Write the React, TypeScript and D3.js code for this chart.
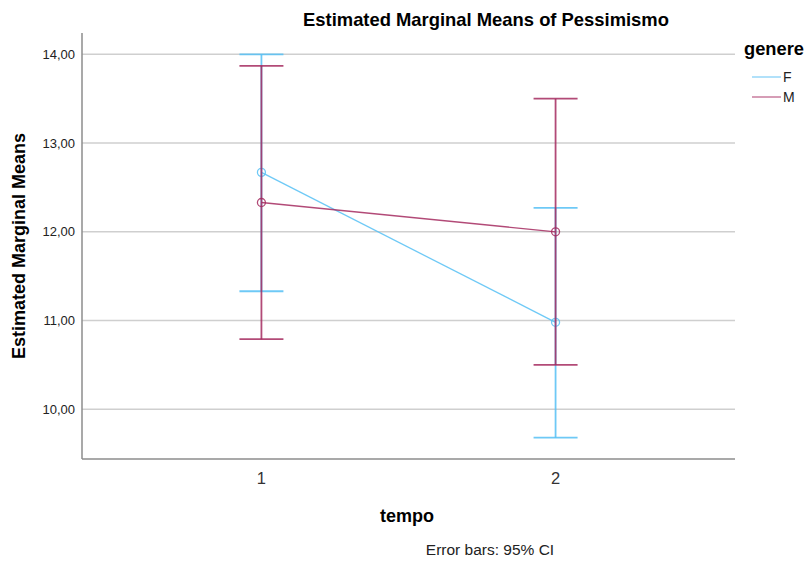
import * as d3 from "d3";

// chart data
const tempi = ["1", "2"];
const genere = ["F", "M"];
const meanF = [12.67, 10.98];
const lowF = [11.33, 9.68];
const highF = [14.0, 12.27];
const meanM = [12.33, 12.0];
const lowM = [10.79, 10.5];
const highM = [13.87, 13.5];
const yTicks = [10, 11, 12, 13, 14];
const colors = ["#55BFF5", "#A52A5F"];

const W = 807;
const H = 562;
const font = "'Liberation Sans', Arial, sans-serif";

export default function App() {
  const left = 82;
  const right = 735;
  const top = 33;
  const bottom = 459;

  const x = d3.scalePoint<string>().domain(tempi).range([left, right]).padding(0.61);
  const y = d3.scaleLinear().domain([9.44, 14.24]).range([bottom, top]);
  const fmt = (v: number) => d3.format(".2f")(v).replace(".", ",");

  const series = [
    { name: genere[0], mean: meanF, low: lowF, high: highF, color: colors[0] },
    { name: genere[1], mean: meanM, low: lowM, high: highM, color: colors[1] },
  ];
  const line = d3
    .line<number>()
    .x((_, i) => x(tempi[i]) as number)
    .y((d) => y(d));
  const cap = 22;

  return (
    <svg width={W} height={H} style={{ position: "absolute", left: 0, top: 0 }} fontFamily={font}>
      <rect width={W} height={H} fill="#fff" />
      <text x={486} y={26} textAnchor="middle" fontSize={18.4} fontWeight="bold" fill="#000">
        Estimated Marginal Means of Pessimismo
      </text>

      {/* gridlines */}
      {yTicks.map((t) => (
        <g key={t}>
          <line x1={left} x2={right} y1={y(t)} y2={y(t)} stroke="#cfcfcf" strokeWidth={1.5} />
          <text x={75} y={y(t)} dy="0.35em" textAnchor="end" fontSize={13} fill="#222">
            {fmt(t)}
          </text>
        </g>
      ))}

      {/* axes */}
      <line x1={left} x2={left} y1={top} y2={bottom} stroke="#8c8c8c" strokeWidth={1.5} />
      <line x1={left} x2={right} y1={bottom} y2={bottom} stroke="#8c8c8c" strokeWidth={1.5} />
      {tempi.map((t) => (
        <text key={t} x={x(t)} y={484} textAnchor="middle" fontSize={16.5} fill="#333">
          {t}
        </text>
      ))}

      {/* series */}
      {series.map((s) => (
        <g key={s.name} stroke={s.color} fill="none" strokeOpacity={0.85}>
          <path d={line(s.mean) || ""} strokeWidth={1.3} />
          {s.mean.map((m, i) => {
            const cx = x(tempi[i]) as number;
            return (
              <g key={i}>
                <line x1={cx} x2={cx} y1={y(s.low[i])} y2={y(s.high[i])} strokeWidth={1.8} />
                <line x1={cx - cap} x2={cx + cap} y1={y(s.low[i])} y2={y(s.low[i])} strokeWidth={1.8} />
                <line x1={cx - cap} x2={cx + cap} y1={y(s.high[i])} y2={y(s.high[i])} strokeWidth={1.8} />
                <circle cx={cx} cy={y(m)} r={4} strokeWidth={1.3} />
              </g>
            );
          })}
        </g>
      ))}

      {/* axis titles */}
      <text
        transform={`translate(25,246) rotate(-90)`}
        textAnchor="middle"
        fontSize={18}
        fontWeight="bold"
        fill="#000"
      >
        Estimated Marginal Means
      </text>
      <text x={407} y={522} textAnchor="middle" fontSize={18} fontWeight="bold" fill="#000">
        tempo
      </text>
      <text x={490} y={555} textAnchor="middle" fontSize={15.5} fill="#222">
        Error bars: 95% CI
      </text>

      {/* legend */}
      <text x={744} y={55} fontSize={18.3} fontWeight="bold" fill="#000">
        genere
      </text>
      {series.map((s, i) => (
        <g key={s.name}>
          <line x1={752} x2={781} y1={77 + i * 20} y2={77 + i * 20} stroke={s.color} strokeWidth={1.3} strokeOpacity={0.7} />
          <text x={783} y={77 + i * 20} dy="0.35em" fontSize={14} fill="#222">
            {s.name}
          </text>
        </g>
      ))}
    </svg>
  );
}
